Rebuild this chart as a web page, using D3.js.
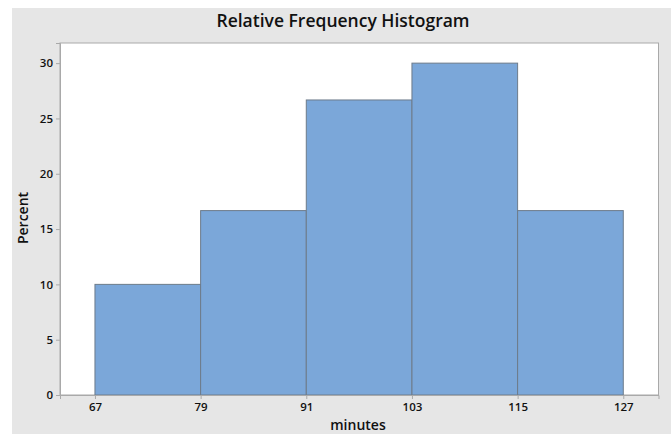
<!DOCTYPE html>
<html><head><meta charset="utf-8">
<script src="https://cdn.jsdelivr.net/npm/d3@7"></script>
<style>body{margin:0;background:#fff;} svg{display:block;}</style>
</head><body>
<script>
const binEdges = [67, 79, 91, 103, 115, 127];
const percents = [10, 16.67, 26.67, 30, 16.67];
const xTicks = [67, 79, 91, 103, 115, 127];
const yTicks = [0, 5, 10, 15, 20, 25, 30];
const title = "Relative Frequency Histogram";
const xLabel = "minutes";
const yLabel = "Percent";

const W = 671, H = 434;
const plot = {left: 60, top: 43, right: 658.5, bottom: 395};
const font = "'Open Sans', 'Noto Sans', sans-serif";

const svg = d3.select("body").append("svg").attr("width", W).attr("height", H);
svg.append("rect").attr("x", 12).attr("y", 8).attr("width", W - 12).attr("height", H - 8).attr("fill", "#e6e6e6");
svg.append("rect").attr("x", plot.left).attr("y", plot.top)
  .attr("width", plot.right - plot.left).attr("height", plot.bottom - plot.top)
  .attr("fill", "#fff").attr("stroke", "#a9a9a9").attr("stroke-width", 1);

const x = d3.scaleLinear().domain([63.03, 131]).range([plot.left, plot.right]);
const y = d3.scaleLinear().domain([0, 31.82]).range([plot.bottom, plot.top]);

const bins = percents.map((v, i) => ({x0: binEdges[i], x1: binEdges[i + 1], v}));
svg.append("g").selectAll("rect").data(bins).join("rect")
  .attr("x", d => x(d.x0)).attr("y", d => y(d.v))
  .attr("width", d => x(d.x1) - x(d.x0)).attr("height", d => y(0) - y(d.v))
  .attr("fill", "#7ba7d9").attr("stroke", "#6d7b8a").attr("stroke-width", 1);

const xAxis = svg.append("g").attr("transform", `translate(0,${plot.bottom})`)
  .call(d3.axisBottom(x).tickValues(xTicks).tickSize(4).tickPadding(4).tickFormat(d3.format("d")));
const yAxis = svg.append("g").attr("transform", `translate(${plot.left},0)`)
  .call(d3.axisLeft(y).tickValues(yTicks).tickSize(4).tickPadding(3).tickFormat(d3.format("d")));
[xAxis, yAxis].forEach(a => {
  a.select(".domain").attr("stroke", "#a9a9a9");
  a.selectAll(".tick line").attr("stroke", "#a9a9a9");
  a.selectAll(".tick text").attr("fill", "#111").style("font-family", font)
    .style("font-size", "11.5px").style("font-weight", "600");
});

svg.append("text").attr("x", 343).attr("y", 27).attr("text-anchor", "middle")
  .style("font-family", font).style("font-size", "17.5px").style("font-weight", "600")
  .attr("fill", "#111").text(title);
svg.append("text").attr("x", 358).attr("y", 430).attr("text-anchor", "middle")
  .style("font-family", font).style("font-size", "14px").style("font-weight", "600")
  .attr("fill", "#111").text(xLabel);
svg.append("text").attr("transform", "translate(28,218) rotate(-90)").attr("text-anchor", "middle")
  .style("font-family", font).style("font-size", "14px").style("font-weight", "600")
  .attr("fill", "#111").text(yLabel);
</script>
</body></html>
